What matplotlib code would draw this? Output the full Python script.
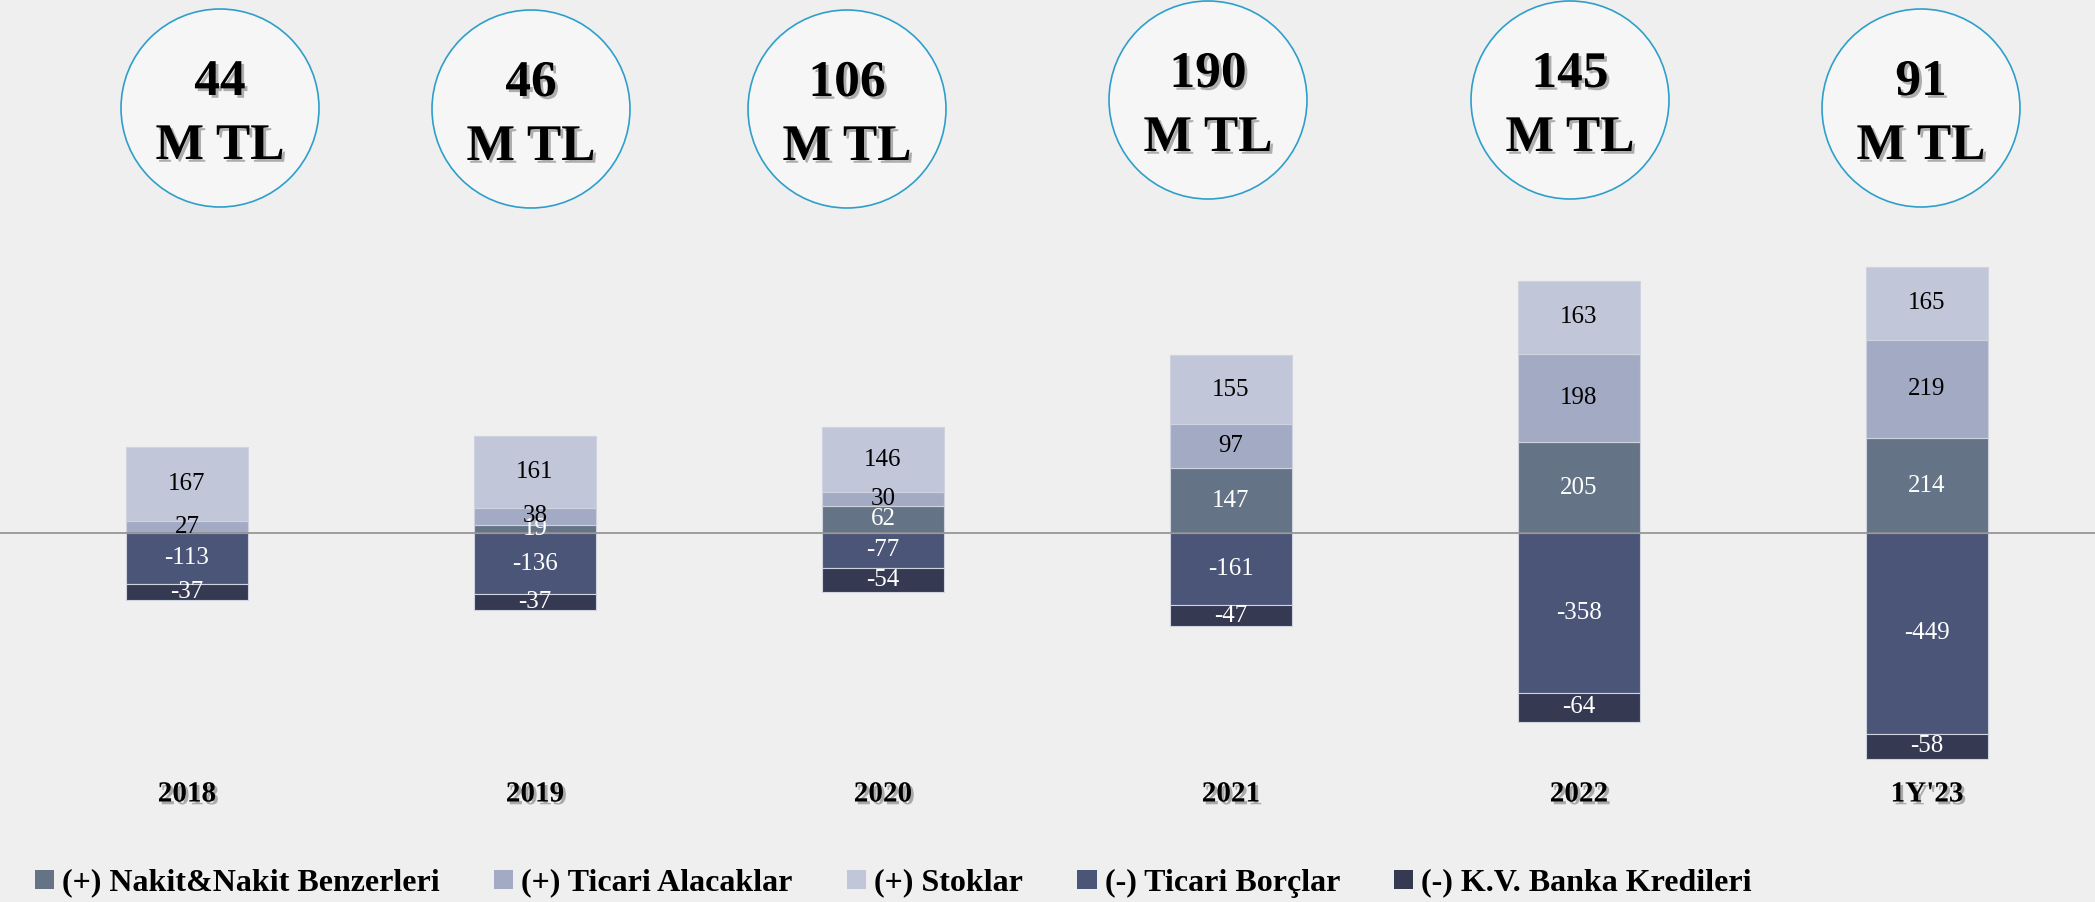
import numpy as np
import matplotlib
matplotlib.use("Agg")
import matplotlib.pyplot as plt
import matplotlib.patheffects as pe
from matplotlib import transforms
from matplotlib.patches import Ellipse, Patch

# data (M TL)
periods = ["2018", "2019", "2020", "2021", "2022", "1Y'23"]
totals = [44, 46, 106, 190, 145, 91]
nakit = [0, 19, 62, 147, 205, 214]
alacak = [27, 38, 30, 97, 198, 219]
stok = [167, 161, 146, 155, 163, 165]
borc = [-113, -136, -77, -161, -358, -449]
kv_kredi = [-37, -37, -54, -47, -64, -58]

series_names = ["(+) Nakit&Nakit Benzerleri", "(+) Ticari Alacaklar", "(+) Stoklar",
                "(-) Ticari Borçlar", "(-) K.V. Banka Kredileri"]
colors = ["#647486", "#A3AAC4", "#C2C6D9", "#4B5577", "#353952"]
label_colors = ["white", "black", "black", "white", "white"]

W, H = 2095, 902
BG = "#EFEFEF"
FONT = "Liberation Serif"

fig = plt.figure(figsize=(W / 100, H / 100), dpi=100, facecolor=BG)
ax = fig.add_axes([0, 0, 1, 1])
ax.set_facecolor(BG)
ax.axis("off")

# pixel layout of the bar area
x0, step = 187, 348
zero_px, px_per_val = 533.3, 0.446
ax.set_xlim(-x0 / step, (W - x0) / step)
ax.set_ylim(-(H - zero_px) / px_per_val, zero_px / px_per_val)

x = np.arange(len(periods))
pos = np.zeros(len(periods))
neg = np.zeros(len(periods))
shadow = [pe.withSimplePatchShadow(offset=(2, -2), shadow_rgbFace="#555555", alpha=0.45)]

for i, vals in enumerate([nakit, alacak, stok, borc, kv_kredi]):
    vals = np.array(vals, dtype=float)
    bottom = np.where(vals >= 0, pos, neg)
    ax.bar(x, vals, bottom=bottom, width=0.348, color=colors[i],
           edgecolor="#cfd3df", linewidth=0.8, zorder=2)
    for xi, b, v in zip(x, bottom, vals):
        if v == 0:
            continue
        ax.text(xi, b + v / 2, f"{int(v)}", ha="center", va="center",
                fontsize=18, family=FONT, color=label_colors[i], zorder=4)
    pos = np.where(vals >= 0, pos + vals, pos)
    neg = np.where(vals < 0, neg + vals, neg)

ax.axhline(0, color="#8f8f8f", linewidth=1.2, zorder=3)

# period labels under bars
tr = transforms.blended_transform_factory(ax.transData, fig.transFigure)
for xi, p in zip(x, periods):
    ax.text(xi, 1 - 794 / H, p, transform=tr, ha="center", va="center",
            fontsize=21, fontweight="bold", family=FONT, path_effects=shadow)

# total circles
circle_cx = [220, 531, 847, 1208, 1570, 1921]
circle_cy = [108, 109, 109, 100, 100, 108]
r = 99
for cx, cy, t in zip(circle_cx, circle_cy, totals):
    fig.patches.append(Ellipse((cx / W, 1 - cy / H), 2 * r / W, 2 * r / H,
                               transform=fig.transFigure, facecolor="#F6F6F6",
                               edgecolor="#2E9FCB", linewidth=1.2))
    fig.text(cx / W, 1 - (cy - 25) / H, str(t), ha="center", va="center",
             fontsize=37, fontweight="bold", family=FONT, path_effects=shadow)
    fig.text(cx / W, 1 - (cy + 39) / H, "M TL", ha="center", va="center",
             fontsize=37, fontweight="bold", family=FONT, path_effects=shadow)

handles = [Patch(facecolor=c) for c in colors]
fig.legend(handles, series_names, loc="center left", bbox_to_anchor=(35 / W, 1 - 883 / H),
           ncol=5, frameon=False, prop={"family": FONT, "weight": "bold", "size": 23},
           handlelength=0.6, handleheight=0.55, handletextpad=0.25, columnspacing=1.7,
           borderpad=0, borderaxespad=0)

fig.savefig("out.png", dpi=100, facecolor=BG)
